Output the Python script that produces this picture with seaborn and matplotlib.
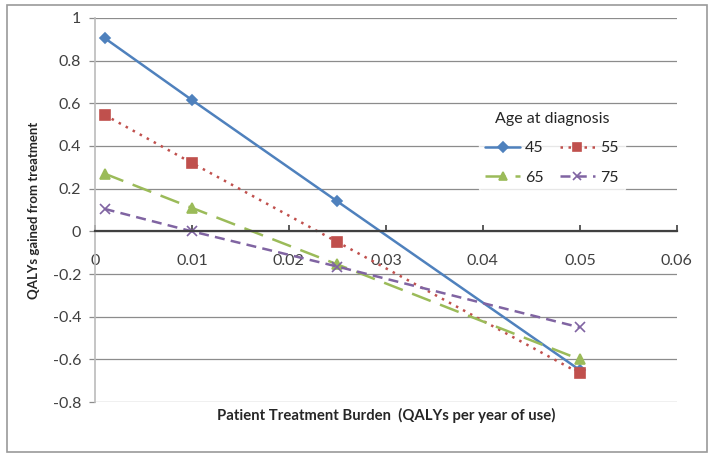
import matplotlib

matplotlib.use("Agg")

import matplotlib.pyplot as plt
import pandas as pd
import seaborn as sns
from matplotlib.patches import Rectangle

burden = [0.001, 0.01, 0.025, 0.05]
ages = ["45", "55", "65", "75"]
qalys_45 = [0.905, 0.615, 0.14, -0.65]
qalys_55 = [0.545, 0.32, -0.05, -0.665]
qalys_65 = [0.27, 0.11, -0.155, -0.60]
qalys_75 = [0.105, 0.0, -0.165, -0.45]

colors = {"45": "#4F81BD", "55": "#C0504D", "65": "#9BBB59", "75": "#8064A2"}
markers = {"45": "D", "55": "s", "65": "^", "75": "x"}
msizes = {"45": 5.5, "55": 6.5, "65": 6.5, "75": 7}
dashes = {"45": "-", "55": (0, (1, 2.2)), "65": (0, (8, 4)), "75": (0, (4, 2.5))}

rows = []
for age, vals in zip(ages, [qalys_45, qalys_55, qalys_65, qalys_75]):
    for x, y in zip(burden, vals):
        rows.append({"burden": x, "qaly": y, "age": age})
df = pd.DataFrame(rows)

sns.set_theme(style="white")
plt.rcParams["font.family"] = ["Lato", "DejaVu Sans"]

fig = plt.figure(figsize=(7.14, 4.57), dpi=100)
ax = fig.add_axes([0.133, 0.120, 0.815, 0.841])

for age in ages:
    sub = df[df["age"] == age]
    sns.lineplot(
        data=sub,
        x="burden",
        y="qaly",
        color=colors[age],
        marker=markers[age],
        markersize=msizes[age],
        markeredgecolor=colors[age],
        markeredgewidth=1.2,
        linewidth=1.8,
        label=age,
        ax=ax,
    )
    ax.lines[-1].set_linestyle(dashes[age])

ax.set_xlim(0, 0.06)
ax.set_ylim(-0.8, 1.0)
ax.set_xticks([0, 0.01, 0.02, 0.03, 0.04, 0.05, 0.06])
ax.set_xticklabels(["0", "0.01", "0.02", "0.03", "0.04", "0.05", "0.06"])
ax.set_yticks([-0.8, -0.6, -0.4, -0.2, 0, 0.2, 0.4, 0.6, 0.8, 1.0])
ax.set_yticklabels(["-0.8", "-0.6", "-0.4", "-0.2", "0", "0.2", "0.4", "0.6", "0.8", "1"])
ax.yaxis.grid(True, color="#8c8c8c", linewidth=0.9)
ax.set_axisbelow(True)

ax.spines["bottom"].set_position(("data", 0))
ax.spines["bottom"].set_color("#404040")
ax.spines["bottom"].set_linewidth(1.6)
ax.spines["left"].set_color("#bbbbbb")
ax.spines["left"].set_linewidth(1.2)
ax.spines["top"].set_visible(False)
ax.spines["right"].set_visible(False)

ax.tick_params(axis="x", direction="in", length=4, width=1.2, color="#404040",
               labelsize=11.5, labelcolor="#404040", pad=16, bottom=True)
ax.tick_params(axis="y", direction="out", length=4, width=0.9, color="#8c8c8c",
               labelsize=11.5, labelcolor="#404040", pad=6, left=True)

ax.set_xlabel("")
ax.set_ylabel("QALYs gained from treatment", fontsize=9.5, fontweight="bold",
              color="#262626", labelpad=9)
fig.text(0.541, 0.09, "Patient Treatment Burden  (QALYs per year of use)",
         ha="center", va="center", fontsize=10.7, fontweight="bold", color="#262626")

handles, labels = ax.get_legend_handles_labels()
order = [0, 2, 1, 3]
leg = ax.legend([handles[i] for i in order], [labels[i] for i in order],
                title="Age at diagnosis", ncol=2,
                loc="center", bbox_to_anchor=(0.785, 0.66), frameon=True,
                fontsize=11.5, title_fontsize=11.5, handlelength=2.2,
                columnspacing=1.0, borderpad=0.4, handletextpad=0.3,
                labelspacing=0.95, markerscale=0.85)
leg.get_frame().set_facecolor("white")
leg.get_frame().set_edgecolor("white")
leg.get_title().set_color("#262626")

fig.patches.append(Rectangle((0.01, 0.01), 0.98, 0.98, transform=fig.transFigure,
                             fill=False, edgecolor="#9a9a9a", linewidth=1.2))

fig.savefig("out.png", dpi=100)
